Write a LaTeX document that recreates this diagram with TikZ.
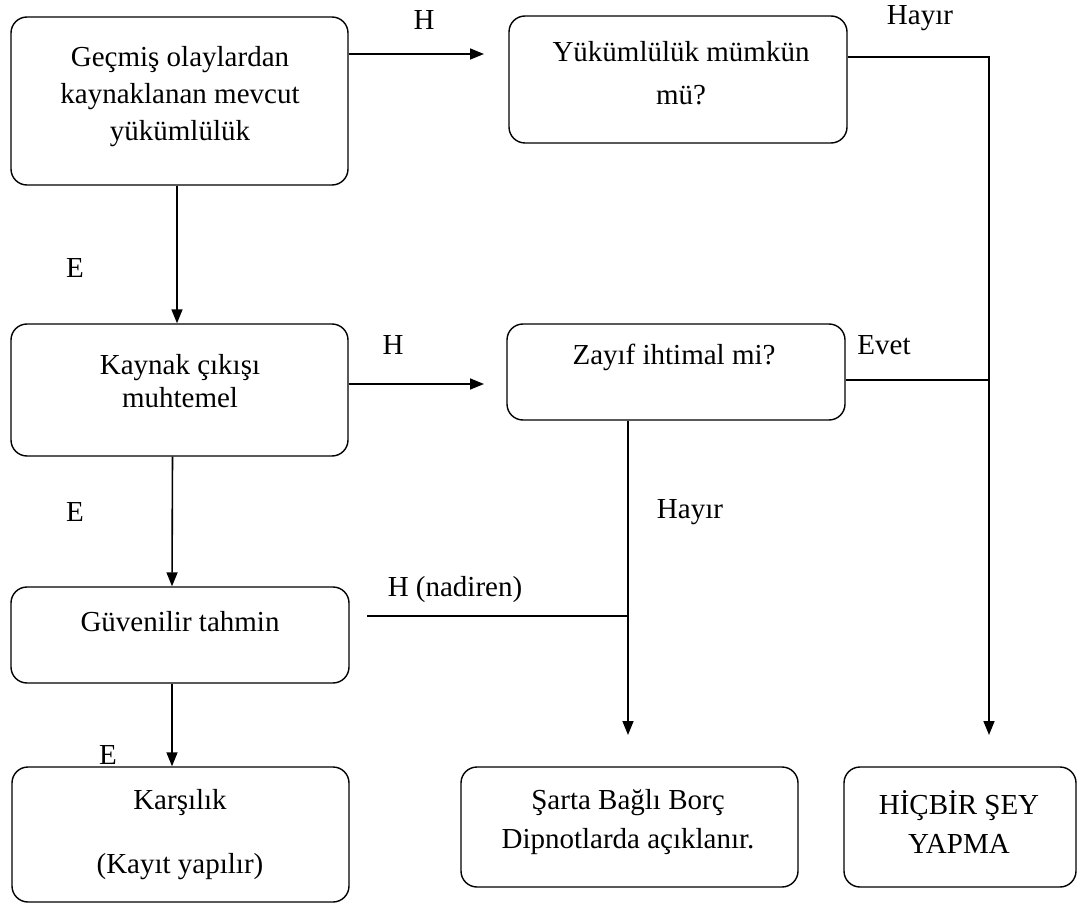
\documentclass[tikz,border=0pt]{standalone}
\usepackage{fontspec}
\setmainfont{Liberation Serif}
\usetikzlibrary{arrows.meta}
\begin{document}
\begin{tikzpicture}[x=1pt,y=-1pt,
  box/.style={draw, line width=1.4pt, rounded corners=16pt, inner sep=0pt},
  txt/.style={font=\fontsize{29}{37}\selectfont, align=center, inner sep=0pt},
  lbl/.style={font=\fontsize{29}{37}\selectfont, inner sep=0pt},
  conn/.style={line width=1.6pt},
  arr/.style={line width=1.6pt, -{Triangle[length=14pt,width=11pt]}}]
\useasboundingbox (0,0) rectangle (1077,904);
% boxes
\node[box, minimum width=337pt, minimum height=168pt] (b1) at (179.5,101) {};
\node[box, minimum width=338pt, minimum height=127pt] (b2) at (678,79.5) {};
\node[box, minimum width=337pt, minimum height=132pt] (b3) at (179.5,390) {};
\node[box, minimum width=338pt, minimum height=96pt] (b4) at (676,372) {};
\node[box, minimum width=338pt, minimum height=96pt] (b5) at (180,635) {};
\node[box, minimum width=337pt, minimum height=135pt] (b6) at (180.5,834.5) {};
\node[box, minimum width=337pt, minimum height=120pt] (b7) at (629.5,827) {};
\node[box, minimum width=232pt, minimum height=120pt] (b8) at (960,827) {};
% texts
\node[txt] (t1) at (180,97) {Geçmiş olaylardan\\kaynaklanan mevcut\\yükümlülük};
\node[txt, font=\fontsize{29}{43}\selectfont] (t2) at (681,73.5) {Yükümlülük mümkün\\mü?};
\node[txt, font=\fontsize{29}{33}\selectfont] (t3) at (180,381.5) {Kaynak çıkışı\\muhtemel};
\node[txt] (t4) at (674,357) {Zayıf ihtimal mi?};
\node[txt] (t5) at (180,622) {Güvenilir tahmin};
\node[txt] (t6a) at (180,803) {Karşılık};
\node[txt] (t6b) at (180,867) {(Kayıt yapılır)};
\node[txt, font=\fontsize{29}{39}\selectfont] (t7) at (628,822.5) {Şarta Bağlı Borç\\Dipnotlarda açıklanır.};
\node[txt, font=\fontsize{29}{39}\selectfont] (t8) at (959,822.5) {HİÇBİR ŞEY\\YAPMA};
% labels
\node[lbl] (lH1) at (424,20) {H};
\node[lbl] (lHayir1) at (920,18) {Hayır};
\node[lbl] (lE1) at (75,268) {E};
\node[lbl] (lH2) at (393,345) {H};
\node[lbl] (lEvet) at (884,345) {Evet};
\node[lbl] (lE2) at (75,512) {E};
\node[lbl] (lHayir2) at (690,512) {Hayır};
\node[lbl] (lHn) at (455,590) {H (nadiren)};
\node[lbl] (lE3) at (108,755) {E};
% coordinates
\coordinate (a1) at (484,54);
\coordinate (h1) at (989,57);
\coordinate (h1e) at (989,735);
\coordinate (a2) at (484,384);
\coordinate (ev) at (989,380);
\coordinate (v2) at (628,735);
\coordinate (n1) at (367,616);
\coordinate (n2) at (628,616);
% connectors
\draw[arr] (b1.east |- a1) -- (a1);
\draw[arr] (b2.east |- h1) -- (h1) -- (h1e);
\draw[arr] ([xshift=-2.5pt]b1.south) -- ([xshift=-2.5pt]b3.north);
\draw[arr] (b3.east |- a2) -- (a2);
\draw[conn] (b4.east |- ev) -- (ev);
\draw[arr] (b4.south -| v2) -- (v2);
\draw[conn] (n1) -- (n2);
\draw[arr] ([xshift=-7pt]b3.south) -- ([xshift=-8pt]b5.north);
\draw[arr] ([xshift=-8pt]b5.south) -- ([xshift=-8.5pt]b6.north);
\end{tikzpicture}
\end{document}
